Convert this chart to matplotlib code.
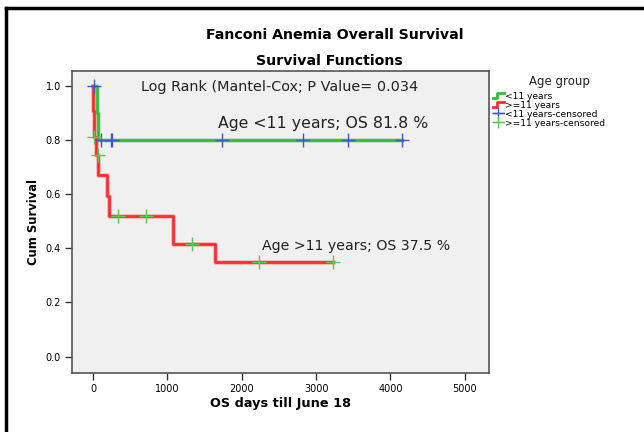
import matplotlib.pyplot as plt
from matplotlib.lines import Line2D
from matplotlib.legend_handler import HandlerBase

# Kaplan-Meier step data
young_t = [0, 50, 70, 4153]
young_s = [1.0, 0.9, 0.8, 0.8]
young_cens_t = [13, 108, 237, 250, 1734, 2822, 3427, 4153]
young_cens_s = [1.0, 0.8, 0.8, 0.8, 0.8, 0.8, 0.8, 0.8]

old_t = [0, 3, 6, 40, 72, 184, 219, 1071, 1640, 3230]
old_s = [1.0, 0.906, 0.813, 0.744, 0.672, 0.595, 0.52, 0.417, 0.35, 0.35]
old_cens_t = [8, 60, 332, 708, 1335, 2235, 3230]
old_cens_s = [0.813, 0.744, 0.52, 0.52, 0.417, 0.35, 0.35]

x_ticks = [0, 1000, 2000, 3000, 4000, 5000]
y_ticks = [0.0, 0.2, 0.4, 0.6, 0.8, 1.0]

GREEN = "#2fbf3a"
RED = "#ff2e2e"
BLUE = "#4057c8"
LGREEN = "#55cc55"

fig = plt.figure(figsize=(6.44, 4.32), dpi=100)
ax = fig.add_axes([0.112, 0.137, 0.647, 0.699])
ax.set_facecolor("#f0f0f0")

# survival curves (light halo + solid line)
for t, s, c in [(young_t, young_s, GREEN), (old_t, old_s, RED)]:
    ax.step(t, s, where="post", color=c, lw=3.4, alpha=0.3, zorder=2)
    ax.step(t, s, where="post", color=c, lw=2, zorder=3)

ax.plot(young_cens_t, young_cens_s, ls="none", marker="+", ms=10, mew=1,
        color=BLUE, zorder=4)
ax.plot(old_cens_t, old_cens_s, ls="none", marker="+", ms=10, mew=1,
        color=LGREEN, zorder=4)

ax.set_xlim(-282, 5323)
ax.set_ylim(-0.06, 1.056)
ax.set_xticks(x_ticks)
ax.set_yticks(y_ticks)
ax.set_xticklabels([str(v) for v in x_ticks], fontsize=7, color="black")
ax.set_yticklabels([f"{v:.1f}" for v in y_ticks], fontsize=7, color="black")
ax.tick_params(length=5, width=1, color="#333333", pad=3, labelbottom=True)
for sp in ax.spines.values():
    sp.set_color("#555555")
    sp.set_linewidth(1.2)

ax.set_xlabel("OS days till June 18", fontsize=9.3, fontweight="bold", labelpad=2)
ax.set_ylabel("Cum Survival", fontsize=8.3, fontweight="bold", labelpad=4)

ax.text(640, 0.998, "Log Rank (Mantel-Cox; P Value= 0.034", fontsize=10.4,
        va="center", color="#222222")
ax.text(1680, 0.86, "Age <11 years; OS 81.8 %", fontsize=11.3, va="center",
        color="#222222")
ax.text(2270, 0.41, "Age >11 years; OS 37.5 %", fontsize=10.2, va="center",
        color="#222222")

fig.text(0.52, 0.918, "Fanconi Anemia Overall Survival", ha="center",
         va="center", fontsize=10.2, fontweight="bold")
fig.text(0.512, 0.858, "Survival Functions", ha="center", va="center",
         fontsize=10.2, fontweight="bold")


class StepHandler(HandlerBase):
    def create_artists(self, legend, orig, x0, y0, w, h, fs, trans):
        xs = [x0, x0 + w * 0.4, x0 + w * 0.4, x0 + w]
        ys = [y0 + h * 0.1, y0 + h * 0.1, y0 + h * 0.9, y0 + h * 0.9]
        ln = Line2D(xs, ys, color=orig.get_color(), lw=2, transform=trans)
        return [ln]


h_young = Line2D([], [], color=GREEN)
h_old = Line2D([], [], color=RED)
h_yc = Line2D([], [], color=BLUE, marker="+", ms=9, lw=1.0)
h_oc = Line2D([], [], color=LGREEN, marker="+", ms=9, lw=1.0)
leg = fig.legend([h_young, h_old, h_yc, h_oc],
                 ["<11 years", ">=11 years", "<11 years-censored",
                  ">=11 years-censored"],
                 handler_map={h_young: StepHandler(), h_old: StepHandler()},
                 loc="upper left", bbox_to_anchor=(0.76, 0.836),
                 frameon=False, fontsize=6.6, handlelength=1.15,
                 handletextpad=0.15, labelspacing=0.0, borderaxespad=0,
                 title="Age group", title_fontsize=8.5)
leg._legend_box.align = "left"
leg._legend_box.sep = 3
leg.get_title().set_position((36, 0))
leg.get_title().set_color("#222222")

# black page frame around the figure
fig.add_artist(Line2D([0.0095, 0.0095], [0.0, 0.982], color="black", lw=2.5,
                      transform=fig.transFigure))
fig.add_artist(Line2D([0.0095, 1.0], [0.982, 0.982], color="black", lw=2.5,
                      transform=fig.transFigure))

fig.savefig("out.png", dpi=100)
